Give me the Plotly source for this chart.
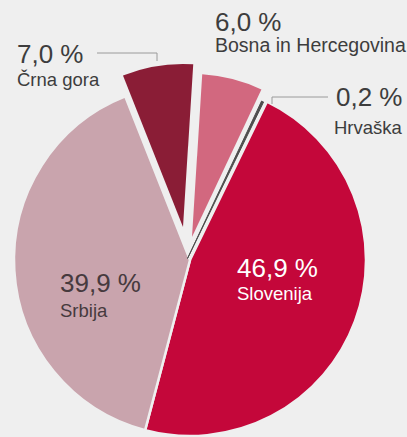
import plotly.graph_objects as go

W, H = 407, 437
BG = "#efefef"

# data, clockwise from 12 o'clock
countries = ["Bosna in Hercegovina", "Hrvaška", "Slovenija", "Srbija", "Črna gora"]
shares = [6.0, 0.2, 46.9, 39.9, 7.0]
colors = ["#d2687f", "#4d4d4d", "#c4073a", "#c9a4ad", "#8a1d36"]

FONT = "Liberation Sans, Arial, sans-serif"


def px_x(x):
    return x / W


def px_y(y):
    return 1 - y / H


def pct(v):
    return f"{v:.1f} %".replace(".", ",")


def pie_layer(show, center, radius, line_width, line_color):
    """One pie with every slice, only the ones in `show` are painted."""
    cx, cy = center
    fill = [c if n in show else "rgba(0,0,0,0)" for n, c in zip(countries, colors)]
    widths = [line_width if n in show else 0 for n in countries]
    return go.Pie(
        labels=countries,
        values=shares,
        sort=False,
        direction="clockwise",
        rotation=3.6,
        marker=dict(colors=fill, line=dict(color=line_color, width=widths)),
        textinfo="none",
        hoverinfo="skip",
        domain=dict(
            x=[px_x(cx - radius), px_x(cx + radius)],
            y=[px_y(cy + radius), px_y(cy - radius)],
        ),
    )


fig = go.Figure()
# big slices
fig.add_trace(pie_layer({"Slovenija", "Srbija"}, (190, 260), 176, 2.5, BG))
# exploded small slices, slightly smaller radius
fig.add_trace(pie_layer({"Črna gora"}, (183, 227), 163, 0, BG))
fig.add_trace(pie_layer({"Bosna in Hercegovina"}, (192, 237), 163, 0, BG))
# thin Hrvaška sliver
fig.add_trace(pie_layer({"Hrvaška"}, (187.5, 258.5), 174, 1, "#4d4d4d"))

share = dict(zip(countries, shares))

# (country, x, anchor, number centre y, label centre y, label size, text colour)
labels = [
    ("Črna gora", 15, "left", 53.5, 79.7, 18.5, "#3d3d3d"),
    ("Bosna in Hercegovina", 213, "left", 21.5, 45, 19.5, "#3d3d3d"),
    ("Hrvaška", 405, "right", 97, 127.7, 18.5, "#3d3d3d"),
    ("Srbija", 58, "left", 283, 310.4, 18.5, "#463a3e"),
    ("Slovenija", 235, "left", 267.7, 293, 18.5, "#ffffff"),
]
for name, x, anchor, y_num, y_lab, size, col in labels:
    fig.add_annotation(
        x=px_x(x), y=px_y(y_num), xref="paper", yref="paper",
        xanchor=anchor, yanchor="middle", showarrow=False,
        text=pct(share[name]), font=dict(family=FONT, size=26, color=col),
    )
    fig.add_annotation(
        x=px_x(x), y=px_y(y_lab), xref="paper", yref="paper",
        xanchor=anchor, yanchor="middle", showarrow=False,
        text=name, font=dict(family=FONT, size=size, color=col),
    )

# leader lines
leader = dict(color="#9a9a9a", width=1)
for pts in ([(97, 53), (157, 53), (157, 61)], [(272, 104), (272, 97), (328, 97)]):
    path = "M " + " L ".join(f"{px_x(a)},{px_y(b)}" for a, b in pts)
    fig.add_shape(type="path", path=path, xref="paper", yref="paper", line=leader)

fig.update_layout(
    width=W,
    height=H,
    margin=dict(l=0, r=0, t=0, b=0),
    paper_bgcolor=BG,
    plot_bgcolor=BG,
    showlegend=False,
)

# drop the default page margin so the figure fills the window
fig.write_html(
    "out.html",
    config={"displayModeBar": False},
    post_script="document.body.style.margin='0';document.body.style.overflow='hidden';",
)
